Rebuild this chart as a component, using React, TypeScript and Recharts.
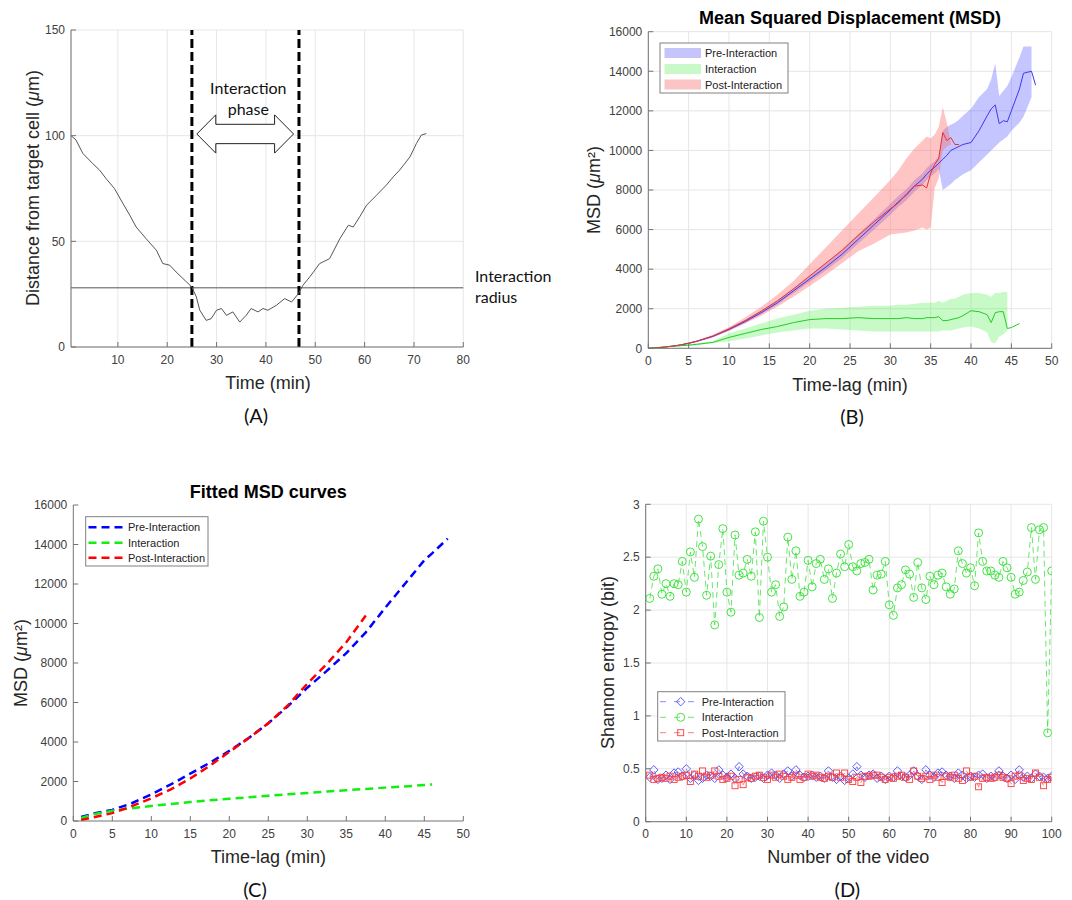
import React from 'react';
import {
  ComposedChart,
  LineChart,
  Line,
  Area,
  XAxis,
  YAxis,
  CartesianGrid,
  ReferenceLine,
  ReferenceArea,
} from 'recharts';

const SANS = '"Liberation Sans", Arial, Helvetica, sans-serif';
const CAL = 'Lato, "Open Sans", sans-serif';
const AX = '#737373';
const TK = '#404040';
const GR = '#e6e6e6';
const LBL = '#262626';

// ---------- Panel A : distance from target cell ----------
const timeA = [0.5, 1.5, 2.9, 4.9, 6.3, 7.6, 9.3, 11, 12.4, 13.7, 15.7, 17.8, 19.1, 20.5, 21.8, 23.9, 25, 25.9, 26.6, 27.9, 28.9, 30, 31, 32, 33.3, 34.7, 36, 37, 38.4, 39.4, 40.4, 42.1, 43.8, 45.2, 46.6, 47.5, 48.9, 50.9, 52.9, 55, 56.7, 57.7, 59, 60.4, 62.4, 64.4, 65.8, 67.1, 69.2, 70.5, 71.5, 72.5];
const distA = [100, 98, 91.6, 86.8, 83.7, 79.7, 75, 68, 62.4, 56.8, 51.3, 45.8, 39.5, 38.7, 35.5, 30.8, 28.4, 23.7, 17.4, 12.6, 13.4, 17.4, 18.2, 15, 16.6, 11.8, 15, 18.2, 16.6, 18.2, 17.4, 19.7, 22.9, 21.3, 25.3, 29.2, 33.2, 39.5, 41.8, 51.3, 57.6, 56.8, 61.6, 67.1, 71.8, 76.6, 80.5, 83.7, 90, 96.3, 100.3, 101];
const interactionRadius = 28;
const phaseStart = 25;
const phaseEnd = 46.7;
const ticksA_x = [10, 20, 30, 40, 50, 60, 70, 80];
const ticksA_y = [0, 50, 100, 150];

// ---------- Panel B : MSD with bands ----------
const lagB = [0, 1, 2, 3, 4, 5, 6, 8, 10, 12, 14, 16, 18, 20, 22, 24, 26, 28, 30, 31, 32, 33, 34, 34.5, 35, 35.5, 36, 36.5, 37, 37.5, 38, 38.5, 39, 40, 41, 42, 42.5, 43, 43.5, 44, 44.5, 45, 46, 46.5, 47, 47.5, 48];
const preMean = [0, 20, 60, 110, 170, 250, 350, 600, 950, 1350, 1800, 2300, 2900, 3500, 4100, 4750, 5500, 6250, 7000, 7400, 7750, 8200, 8550, 8800, 9000, 9150, 9350, 9550, 9750, 10000, 10100, 10200, 10300, 10400, 11000, 11750, 12100, 12300, 11350, 11500, 11450, 12000, 13100, 13900, 13950, 14000, 13300];
const preLow = [0, 15, 50, 95, 150, 225, 320, 560, 900, 1280, 1720, 2200, 2780, 3350, 3930, 4550, 5280, 6000, 6750, 7150, 7480, 7920, 8250, 8500, 8700, 8850, 9050, 8000, 8150, 8300, 8500, 8650, 8800, 9000, 9400, 9800, 10000, 10200, 10400, 10550, 10700, 11000, 11400, 11700, 12200, 12700, null];
const preHigh = [0, 25, 70, 125, 190, 280, 385, 650, 1010, 1430, 1900, 2420, 3040, 3670, 4290, 4970, 5750, 6520, 7300, 7700, 8050, 8500, 8850, 9100, 9300, 9450, 9700, 11000, 11200, 11300, 11400, 11550, 11750, 12100, 12700, 13100, 13600, 14400, 12750, 13000, 13250, 13700, 14700, 15250, 15250, 15250, null];
const postMean = [0, 20, 60, 110, 170, 260, 360, 620, 980, 1400, 1880, 2400, 3000, 3650, 4300, 4950, 5700, 6400, 7050, 7350, 7800, 8200, 8250, 8100, 8850, 9300, 9600, 10900, 10500, 10650, 10300, 10300, null, null, null, null, null, null, null, null, null, null, null, null, null, null, null];
const postLow = [0, 15, 50, 95, 150, 230, 320, 560, 880, 1250, 1650, 2100, 2600, 3150, 3700, 4300, 4900, 5300, 5750, 5800, 5850, 5950, 6100, 6000, 6100, 8100, 8600, 10000, 10200, 10300, null, null, null, null, null, null, null, null, null, null, null, null, null, null, null, null, null];
const postHigh = [0, 25, 70, 125, 190, 290, 400, 690, 1080, 1560, 2100, 2700, 3400, 4250, 5100, 5950, 6800, 7650, 8500, 9000, 9600, 10100, 10500, 10700, 10600, 10800, 11200, 12200, 11400, 10400, null, null, null, null, null, null, null, null, null, null, null, null, null, null, null, null, null];
const intMean = [0, 30, 70, 100, 130, 160, 200, 300, 550, 750, 950, 1100, 1300, 1450, 1500, 1500, 1550, 1500, 1500, 1500, 1550, 1500, 1500, 1550, 1550, 1550, 1600, 1400, 1400, 1450, 1500, 1550, 1650, 1900, 1850, 1700, 1300, 1800, 1850, 1850, 1000, 1050, 1250, null, null, null, null];
const intLow = [0, 20, 50, 80, 100, 120, 160, 250, 350, 500, 650, 800, 900, 1000, 1000, 950, 900, 850, 850, 850, 850, 850, 850, 850, 850, 850, 850, 900, 900, 900, 950, 1000, 1050, 1100, 1000, 800, 300, 250, 600, 700, 900, null, null, null, null, null, null];
const intHigh = [0, 60, 110, 140, 170, 200, 250, 360, 750, 1000, 1250, 1500, 1700, 1900, 2000, 2050, 2100, 2150, 2150, 2200, 2200, 2250, 2300, 2300, 2300, 2300, 2400, 2300, 2400, 2500, 2500, 2600, 2700, 2800, 2800, 2700, 2600, 2800, 2800, 2850, 2850, null, null, null, null, null, null];

// ---------- Panel C : fitted MSD curves ----------
const lagC = [1, 2.5, 5, 7.5, 10, 12.5, 15, 17.5, 20, 22.5, 25, 27.5, 30, 32.5, 35, 37.5, 40, 42.5, 45, 46, 48];
const preFit = [200, 370, 560, 900, 1350, 1850, 2400, 2950, 3550, 4200, 4950, 5800, 6750, 7600, 8500, 9550, 10800, 12000, 13200, 13550, 14300];
const intFit = [150, 330, 520, 650, 760, 860, 960, 1050, 1130, 1200, 1280, 1350, 1420, 1490, 1560, 1620, 1690, 1750, 1820, 1850, null];
const postFit = [50, 180, 400, 750, 1150, 1600, 2150, 2800, 3500, 4200, 4950, 5850, 6950, 7950, 9050, 10400, null, null, null, null, null];
const ticksMSD_x = [0, 5, 10, 15, 20, 25, 30, 35, 40, 45, 50];
const ticksMSD_y = [0, 2000, 4000, 6000, 8000, 10000, 12000, 14000, 16000];

// ---------- Panel D : Shannon entropy ----------
const videoNo = Array.from({ length: 100 }, (_, i) => i + 1);
const entInteraction = [
  2.11, 2.32, 2.39, 2.15, 2.25, 2.13, 2.25, 2.24, 2.46, 2.17,
  2.55, 2.31, 2.86, 2.60, 2.14, 2.51, 1.86, 2.43, 2.77, 2.17,
  1.98, 2.71, 2.33, 2.35, 2.48, 2.32, 2.74, 1.93, 2.84, 2.50,
  2.17, 2.24, 1.94, 2.03, 2.69, 2.29, 2.56, 2.13, 2.17, 2.47,
  2.22, 2.44, 2.48, 2.29, 2.39, 2.11, 2.35, 2.53, 2.41, 2.62,
  2.41, 2.37, 2.44, 2.45, 2.48, 2.19, 2.33, 2.34, 2.46, 2.05,
  1.95, 2.21, 2.24, 2.38, 2.34, 2.12, 2.45, 2.21, 2.10, 2.32,
  2.24, 2.33, 2.35, 2.22, 2.15, 2.20, 2.56, 2.44, 2.35, 2.40,
  2.23, 2.73, 2.46, 2.37, 2.37, 2.33, 2.31, 2.46, 2.40, 2.31,
  2.15, 2.17, 2.28, 2.36, 2.78, 2.29, 2.76, 2.78, 0.84, 2.37,
];
const entPre = [
  0.42, 0.49, 0.40, 0.41, 0.44, 0.40, 0.46, 0.47, 0.43, 0.50,
  0.41, 0.44, 0.39, 0.41, 0.44, 0.43, 0.41, 0.49, 0.44, 0.42,
  0.45, 0.41, 0.52, 0.45, 0.43, 0.41, 0.42, 0.43, 0.41, 0.44,
  0.46, 0.44, 0.41, 0.45, 0.48, 0.43, 0.49, 0.44, 0.42, 0.43,
  0.44, 0.42, 0.43, 0.41, 0.48, 0.42, 0.40, 0.43, 0.39, 0.41,
  0.45, 0.52, 0.44, 0.42, 0.44, 0.45, 0.41, 0.43, 0.40, 0.43,
  0.42, 0.48, 0.43, 0.42, 0.44, 0.48, 0.43, 0.40, 0.49, 0.44,
  0.42, 0.46, 0.47, 0.44, 0.43, 0.41, 0.46, 0.44, 0.41, 0.43,
  0.42, 0.44, 0.45, 0.41, 0.43, 0.42, 0.48, 0.43, 0.41, 0.44,
  0.40, 0.49, 0.42, 0.43, 0.41, 0.45, 0.43, 0.42, 0.41, 0.43,
];
const entPost = [
  0.44, 0.40, 0.41, 0.42, 0.41, 0.43, 0.40, 0.42, 0.43, 0.44,
  0.38, 0.45, 0.43, 0.48, 0.42, 0.44, 0.48, 0.43, 0.40, 0.41,
  0.43, 0.34, 0.40, 0.35, 0.42, 0.41, 0.43, 0.44, 0.42, 0.40,
  0.44, 0.42, 0.45, 0.43, 0.40, 0.42, 0.44, 0.40, 0.42, 0.45,
  0.43, 0.44, 0.42, 0.41, 0.43, 0.42, 0.46, 0.42, 0.46, 0.40,
  0.38, 0.42, 0.37, 0.43, 0.43, 0.44, 0.44, 0.42, 0.40, 0.42,
  0.41, 0.43, 0.44, 0.42, 0.40, 0.48, 0.43, 0.41, 0.43, 0.40,
  0.44, 0.42, 0.37, 0.43, 0.42, 0.44, 0.41, 0.39, 0.48, 0.42,
  0.43, 0.33, 0.41, 0.42, 0.41, 0.42, 0.44, 0.42, 0.41, 0.36,
  0.43, 0.44, 0.39, 0.41, 0.40, 0.46, 0.42, 0.34, 0.40, 0.42,
];
const ticksD_x = [0, 10, 20, 30, 40, 50, 60, 70, 80, 90, 100];
const ticksD_y = [0, 0.5, 1, 1.5, 2, 2.5, 3];

// ---------- tables built from the arrays ----------
const rowsA = timeA.map((t, i) => ({ x: t, d: distA[i] }));
const band = (lo: (number | null)[], hi: (number | null)[], i: number) =>
  lo[i] == null || hi[i] == null ? null : [lo[i], hi[i]];
const rowsB = lagB.map((x, i) => ({
  x,
  preBand: band(preLow, preHigh, i),
  intBand: band(intLow, intHigh, i),
  postBand: band(postLow, postHigh, i),
  pre: preMean[i],
  int: intMean[i],
  post: postMean[i],
}));
const rowsC = lagC.map((x, i) => ({ x, pre: preFit[i], int: intFit[i], post: postFit[i] }));
const rowsD = videoNo.map((x, i) => ({ x, pre: entPre[i], int: entInteraction[i], post: entPost[i] }));

const tickStyle = { fontSize: 12, fill: TK, fontFamily: SANS };

function frame(xd: [number, number], xt: number[], yd: [number, number], yt: number[], fmtY?: (v: number) => string) {
  return [
    <XAxis key="xb" dataKey="x" type="number" domain={xd} ticks={xt} interval={0} allowDataOverflow height={30}
      tickSize={-5} tickMargin={13} tick={tickStyle} axisLine={{ stroke: AX }} tickLine={{ stroke: AX }} />,
    <YAxis key="yl" type="number" domain={yd} ticks={yt} interval={0} allowDataOverflow width={50}
      tickSize={-5} tickMargin={11} tick={tickStyle} axisLine={{ stroke: AX }} tickLine={{ stroke: AX }}
      tickFormatter={fmtY} />,
    <XAxis key="xt" xAxisId="top" orientation="top" dataKey="x" type="number" domain={xd} ticks={xt} interval={0}
      allowDataOverflow height={0} tickSize={-5} tick={false} axisLine={{ stroke: AX }} tickLine={{ stroke: AX }} />,
    <YAxis key="yr" yAxisId="right" orientation="right" type="number" domain={yd} ticks={yt} interval={0}
      allowDataOverflow width={0} tickSize={-5} tick={false} axisLine={{ stroke: AX }} tickLine={{ stroke: AX }} />,
  ];
}

const arrowShape = (p: any) => {
  const { x, y, width: w, height: h } = p;
  if (x == null || w == null) return <g />;
  const head = w * 0.196;
  const cy = y + h / 2;
  const sh = h * 0.253;
  const pts = [
    [x, cy], [x + head, y], [x + head, cy - sh], [x + w - head, cy - sh], [x + w - head, y],
    [x + w, cy], [x + w - head, y + h], [x + w - head, cy + sh], [x + head, cy + sh], [x + head, y + h],
  ];
  return <polygon points={pts.map((q) => q.join(',')).join(' ')} fill="#fff" stroke="#222" strokeWidth={1} />;
};

const circleDot = (p: any) => {
  const { cx, cy, index } = p;
  if (cx == null || cy == null) return <g key={`c${index}`} />;
  return <circle key={`c${index}`} cx={cx} cy={cy} r={4} fill="none" stroke="#2fe02f" strokeWidth={0.9} />;
};
const diamondDot = (p: any) => {
  const { cx, cy, index } = p;
  if (cx == null || cy == null) return <g key={`d${index}`} />;
  const s = 4.2;
  return <path key={`d${index}`} d={`M${cx},${cy - s}L${cx + s},${cy}L${cx},${cy + s}L${cx - s},${cy}Z`} fill="none" stroke="#4848ff" strokeWidth={0.9} />;
};
const squareDot = (p: any) => {
  const { cx, cy, index } = p;
  if (cx == null || cy == null) return <g key={`s${index}`} />;
  const s = 3;
  return <rect key={`s${index}`} x={cx - s} y={cy - s} width={2 * s} height={2 * s} fill="none" stroke="#ff3a3a" strokeWidth={0.9} />;
};

const T = (props: any) => {
  const { x, y, size = 18, rot, weight, family = SANS, anchor = 'middle', fill = LBL, children } = props;
  const tr = rot ? `translate(${x},${y}) rotate(${rot})` : undefined;
  return (
    <text x={rot ? 0 : x} y={rot ? 0 : y} transform={tr} fontSize={size} fontWeight={weight} fontFamily={family}
      textAnchor={anchor} dominantBaseline="central" fill={fill}>
      {children}
    </text>
  );
};

const fmtNum = (v: number) => String(v);

export default function App() {
  return (
    <div style={{ position: 'absolute', left: 0, top: 0, width: 1072, height: 900, background: '#fff', fontFamily: SANS }}>
      {/* Panel A */}
      <div style={{ position: 'absolute', left: 0, top: 0 }}>
        <LineChart width={540} height={430} data={rowsA} margin={{ top: 30, right: 76.7, bottom: 53, left: 21 }}>
          <CartesianGrid stroke={GR} />
          {frame([0.5, 80], ticksA_x, [0, 150], ticksA_y)}
          <ReferenceLine y={interactionRadius} stroke="#555" strokeWidth={1} />
          <ReferenceLine x={phaseStart} stroke="#000" strokeWidth={3} strokeDasharray="9 4" />
          <ReferenceLine x={phaseEnd} stroke="#000" strokeWidth={3} strokeDasharray="9 4" />
          <ReferenceArea x1={26} x2={45.6} y1={91.75} y2={109.85} shape={arrowShape} />
          <Line dataKey="d" type="linear" stroke="#555" strokeWidth={1} dot={false} activeDot={false} isAnimationActive={false} />
        </LineChart>
      </div>

      {/* Panel B */}
      <div style={{ position: 'absolute', left: 560, top: 0 }}>
        <ComposedChart width={512} height={430} data={rowsB} margin={{ top: 31.7, right: 20.3, bottom: 51.7, left: 38.3 }}>
          <CartesianGrid stroke={GR} />
          {frame([0, 50], ticksMSD_x, [0, 16000], ticksMSD_y, fmtNum)}
          <Area dataKey="preBand" type="linear" stroke="none" fill="#6666ff" fillOpacity={0.38} dot={false} activeDot={false} isAnimationActive={false} />
          <Area dataKey="intBand" type="linear" stroke="none" fill="#55ee55" fillOpacity={0.32} dot={false} activeDot={false} isAnimationActive={false} />
          <Area dataKey="postBand" type="linear" stroke="none" fill="#ff6666" fillOpacity={0.38} dot={false} activeDot={false} isAnimationActive={false} />
          <Line dataKey="pre" type="linear" stroke="#3a3af0" strokeWidth={1} dot={false} activeDot={false} isAnimationActive={false} />
          <Line dataKey="int" type="linear" stroke="#22cc22" strokeWidth={1} dot={false} activeDot={false} isAnimationActive={false} />
          <Line dataKey="post" type="linear" stroke="#e83030" strokeWidth={1} dot={false} activeDot={false} isAnimationActive={false} />
        </ComposedChart>
      </div>

      {/* Panel C */}
      <div style={{ position: 'absolute', left: 0, top: 450 }}>
        <LineChart width={540} height={450} data={rowsC} margin={{ top: 55, right: 76.7, bottom: 49, left: 23.3 }}>
          {frame([0, 50], ticksMSD_x, [0, 16000], ticksMSD_y, fmtNum)}
          <Line dataKey="pre" type="linear" stroke="#0000ff" strokeWidth={2.5} strokeDasharray="8 5" dot={false} activeDot={false} isAnimationActive={false} />
          <Line dataKey="int" type="linear" stroke="#11ee11" strokeWidth={2.5} strokeDasharray="8 5" dot={false} activeDot={false} isAnimationActive={false} />
          <Line dataKey="post" type="linear" stroke="#ff0000" strokeWidth={2.5} strokeDasharray="8 5" dot={false} activeDot={false} isAnimationActive={false} />
        </LineChart>
      </div>

      {/* Panel D */}
      <div style={{ position: 'absolute', left: 560, top: 450 }}>
        <LineChart width={512} height={450} data={rowsD} margin={{ top: 54.3, right: 20.3, bottom: 48.3, left: 35.7 }}>
          <CartesianGrid stroke={GR} />
          {frame([0, 100], ticksD_x, [0, 3], ticksD_y, fmtNum)}
          <Line dataKey="pre" type="linear" stroke="#6a6aff" strokeWidth={0.8} strokeDasharray="6 4" dot={diamondDot} activeDot={false} isAnimationActive={false} />
          <Line dataKey="int" type="linear" stroke="#44e044" strokeWidth={0.8} strokeDasharray="6 4" dot={circleDot} activeDot={false} isAnimationActive={false} />
          <Line dataKey="post" type="linear" stroke="#ff5a5a" strokeWidth={0.8} strokeDasharray="6 4" dot={squareDot} activeDot={false} isAnimationActive={false} />
        </LineChart>
      </div>

      {/* Text and legends */}
      <svg width={1072} height={900} style={{ position: 'absolute', left: 0, top: 0, pointerEvents: 'none' }}>
        {/* A */}
        <T x={33} y={188} rot={-90}>Distance from target cell (<tspan fontStyle="italic">μ</tspan>m)</T>
        <T x={268} y={383}>Time (min)</T>
        <T x={256} y={415} size={20} family={CAL} fill="#111">(A)</T>
        <T x={248.3} y={87} size={16} family={CAL} fill="#111">Interaction</T>
        <T x={248.3} y={108} size={16} family={CAL} fill="#111">phase</T>
        <T x={475} y={275} size={16} family={CAL} fill="#111" anchor="start">Interaction</T>
        <T x={475} y={296.7} size={16} family={CAL} fill="#111" anchor="start">radius</T>

        {/* B */}
        <T x={850} y={18} weight="bold" fill="#000">Mean Squared Displacement (MSD)</T>
        <T x={594} y={190} rot={-90}>MSD (<tspan fontStyle="italic">μ</tspan>m²)</T>
        <T x={850} y={385}>Time-lag (min)</T>
        <T x={852} y={416} size={20} family={CAL} fill="#111">(B)</T>
        <rect x={660} y={43} width={128} height={50} fill="#fff" stroke="#808080" strokeWidth={1} />
        <rect x={664.5} y={48} width={36.5} height={10} fill="#c5c5fb" />
        <rect x={664.5} y={64} width={36.5} height={10} fill="#c9f8c9" />
        <rect x={664.5} y={79.5} width={36.5} height={10} fill="#fbc5c5" />
        <T x={705} y={53} size={11} anchor="start" fill="#222">Pre-Interaction</T>
        <T x={705} y={69} size={11} anchor="start" fill="#222">Interaction</T>
        <T x={705} y={84.5} size={11} anchor="start" fill="#222">Post-Interaction</T>

        {/* C */}
        <T x={268.3} y={491.7} weight="bold" fill="#000">Fitted MSD curves</T>
        <T x={20.5} y={663} rot={-90}>MSD (<tspan fontStyle="italic">μ</tspan>m²)</T>
        <T x={268.3} y={857}>Time-lag (min)</T>
        <T x={255} y={889} size={20} family={CAL} fill="#111">(C)</T>
        <rect x={85.7} y={516.7} width={122.3} height={49.3} fill="#fff" stroke="#808080" strokeWidth={1} />
        <line x1={88.5} x2={125} y1={527.3} y2={527.3} stroke="#0000ff" strokeWidth={2.5} strokeDasharray="8 5" />
        <line x1={88.5} x2={125} y1={542.7} y2={542.7} stroke="#11ee11" strokeWidth={2.5} strokeDasharray="8 5" />
        <line x1={88.5} x2={125} y1={557.7} y2={557.7} stroke="#ff0000" strokeWidth={2.5} strokeDasharray="8 5" />
        <T x={128} y={527.3} size={11} anchor="start" fill="#222">Pre-Interaction</T>
        <T x={128} y={542.7} size={11} anchor="start" fill="#222">Interaction</T>
        <T x={128} y={557.7} size={11} anchor="start" fill="#222">Post-Interaction</T>

        {/* D */}
        <T x={608} y={662.5} rot={-90}>Shannon entropy (bit)</T>
        <T x={848.3} y={857}>Number of the video</T>
        <T x={847.3} y={889} size={20} family={CAL} fill="#111">(D)</T>
        <rect x={657.7} y={691.7} width={127.3} height={49.3} fill="#fff" stroke="#808080" strokeWidth={1} />
        <line x1={660} x2={697} y1={701.7} y2={701.7} stroke="#6a6aff" strokeWidth={0.8} strokeDasharray="6 8" />
        <line x1={660} x2={697} y1={717.3} y2={717.3} stroke="#44e044" strokeWidth={0.8} strokeDasharray="6 8" />
        <line x1={660} x2={697} y1={732.7} y2={732.7} stroke="#ff5a5a" strokeWidth={0.8} strokeDasharray="6 8" />
        {diamondDot({ cx: 680.7, cy: 701.7, index: 'legend' })}
        {circleDot({ cx: 680.7, cy: 717.3, index: 'legend' })}
        {squareDot({ cx: 680.7, cy: 732.7, index: 'legend' })}
        <T x={701.7} y={701.7} size={11} anchor="start" fill="#222">Pre-Interaction</T>
        <T x={701.7} y={717.3} size={11} anchor="start" fill="#222">Interaction</T>
        <T x={701.7} y={732.7} size={11} anchor="start" fill="#222">Post-Interaction</T>
      </svg>
    </div>
  );
}
